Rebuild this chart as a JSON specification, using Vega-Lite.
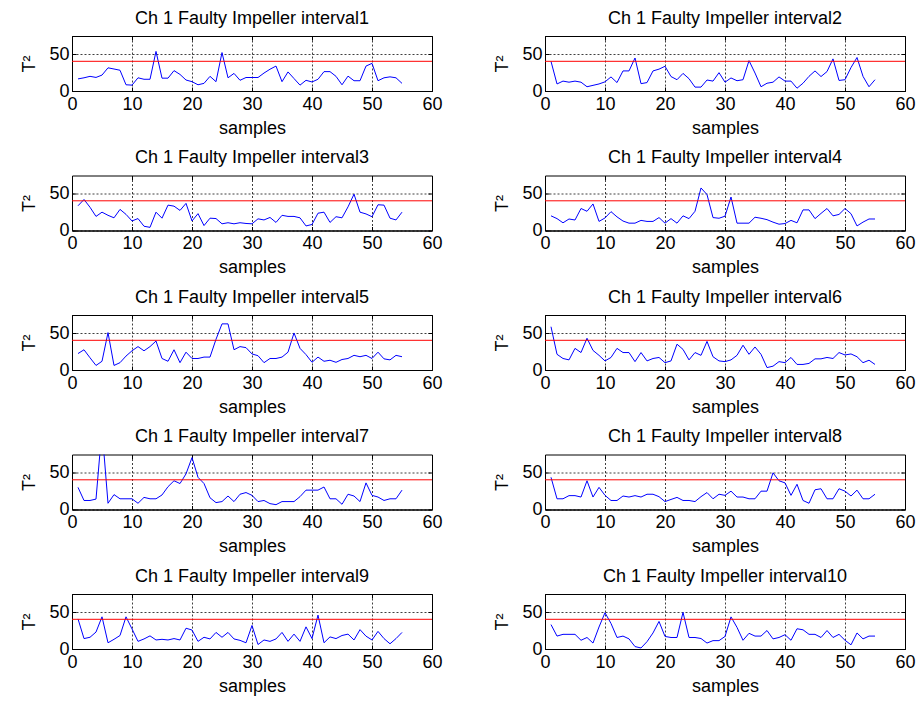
{
"$schema": "https://vega.github.io/schema/vega-lite/v6.json",
"padding": {"left": 20, "top": 9, "right": 5, "bottom": 5},
"background": "white",
"data": {"values": [
{"i":1,"s":1,"t":16.5},{"i":1,"s":2,"t":18},{"i":1,"s":3,"t":20},{"i":1,"s":4,"t":18.5},{"i":1,"s":5,"t":21.7},{"i":1,"s":6,"t":31.6},{"i":1,"s":7,"t":30},{"i":1,"s":8,"t":28.3},{"i":1,"s":9,"t":8.5},{"i":1,"s":10,"t":8},
{"i":1,"s":11,"t":18},{"i":1,"s":12,"t":16},{"i":1,"s":13,"t":16},{"i":1,"s":14,"t":54},{"i":1,"s":15,"t":17.5},{"i":1,"s":16,"t":17.5},{"i":1,"s":17,"t":27.8},{"i":1,"s":18,"t":22.6},{"i":1,"s":19,"t":15},{"i":1,"s":20,"t":12.7},
{"i":1,"s":21,"t":8.5},{"i":1,"s":22,"t":10.4},{"i":1,"s":23,"t":20},{"i":1,"s":24,"t":12.7},{"i":1,"s":25,"t":52.4},{"i":1,"s":26,"t":18},{"i":1,"s":27,"t":24},{"i":1,"s":28,"t":14.6},{"i":1,"s":29,"t":18.4},{"i":1,"s":30,"t":18.4},
{"i":1,"s":31,"t":18.4},{"i":1,"s":32,"t":24.5},{"i":1,"s":33,"t":29.7},{"i":1,"s":34,"t":34},{"i":1,"s":35,"t":12.7},{"i":1,"s":36,"t":26},{"i":1,"s":37,"t":17},{"i":1,"s":38,"t":8},{"i":1,"s":39,"t":14.6},{"i":1,"s":40,"t":12.3},
{"i":1,"s":41,"t":16},{"i":1,"s":42,"t":26.4},{"i":1,"s":43,"t":26.4},{"i":1,"s":44,"t":20},{"i":1,"s":45,"t":8.5},{"i":1,"s":46,"t":20.3},{"i":1,"s":47,"t":14},{"i":1,"s":48,"t":14},{"i":1,"s":49,"t":34},{"i":1,"s":50,"t":37.7},
{"i":1,"s":51,"t":14},{"i":1,"s":52,"t":18},{"i":1,"s":53,"t":19.3},{"i":1,"s":54,"t":18},{"i":1,"s":55,"t":10.4},
{"i":2,"s":1,"t":40.4},{"i":2,"s":2,"t":9.6},{"i":2,"s":3,"t":13.5},{"i":2,"s":4,"t":12},{"i":2,"s":5,"t":13.5},{"i":2,"s":6,"t":12},{"i":2,"s":7,"t":5.8},{"i":2,"s":8,"t":7.7},{"i":2,"s":9,"t":9.6},{"i":2,"s":10,"t":12.5},
{"i":2,"s":11,"t":19.2},{"i":2,"s":12,"t":11.5},{"i":2,"s":13,"t":27.4},{"i":2,"s":14,"t":27.4},{"i":2,"s":15,"t":45},{"i":2,"s":16,"t":10},{"i":2,"s":17,"t":11.5},{"i":2,"s":18,"t":27.4},{"i":2,"s":19,"t":29.8},{"i":2,"s":20,"t":33.7},
{"i":2,"s":21,"t":19.7},{"i":2,"s":22,"t":15.4},{"i":2,"s":23,"t":24},{"i":2,"s":24,"t":16.8},{"i":2,"s":25,"t":5.3},{"i":2,"s":26,"t":5.3},{"i":2,"s":27,"t":15},{"i":2,"s":28,"t":13.5},{"i":2,"s":29,"t":25},{"i":2,"s":30,"t":12},
{"i":2,"s":31,"t":17.8},{"i":2,"s":32,"t":14},{"i":2,"s":33,"t":15.4},{"i":2,"s":34,"t":41.4},{"i":2,"s":35,"t":24.5},{"i":2,"s":36,"t":5.8},{"i":2,"s":37,"t":10.6},{"i":2,"s":38,"t":12},{"i":2,"s":39,"t":19.2},{"i":2,"s":40,"t":13.5},
{"i":2,"s":41,"t":13.5},{"i":2,"s":42,"t":3.8},{"i":2,"s":43,"t":10.6},{"i":2,"s":44,"t":20},{"i":2,"s":45,"t":27.4},{"i":2,"s":46,"t":19.7},{"i":2,"s":47,"t":26.5},{"i":2,"s":48,"t":43.8},{"i":2,"s":49,"t":14.4},{"i":2,"s":50,"t":15.4},
{"i":2,"s":51,"t":32},{"i":2,"s":52,"t":45.7},{"i":2,"s":53,"t":20},{"i":2,"s":54,"t":5.8},{"i":2,"s":55,"t":15.4},
{"i":3,"s":1,"t":33.7},{"i":3,"s":2,"t":42.3},{"i":3,"s":3,"t":31.7},{"i":3,"s":4,"t":19.2},{"i":3,"s":5,"t":25},{"i":3,"s":6,"t":20.7},{"i":3,"s":7,"t":17.3},{"i":3,"s":8,"t":28.8},{"i":3,"s":9,"t":22},{"i":3,"s":10,"t":13},
{"i":3,"s":11,"t":16.3},{"i":3,"s":12,"t":5.8},{"i":3,"s":13,"t":4.3},{"i":3,"s":14,"t":25},{"i":3,"s":15,"t":16.8},{"i":3,"s":16,"t":34.6},{"i":3,"s":17,"t":33.2},{"i":3,"s":18,"t":27.4},{"i":3,"s":19,"t":37},{"i":3,"s":20,"t":13},
{"i":3,"s":21,"t":23},{"i":3,"s":22,"t":6.7},{"i":3,"s":23,"t":16.8},{"i":3,"s":24,"t":16.3},{"i":3,"s":25,"t":9.1},{"i":3,"s":26,"t":10.6},{"i":3,"s":27,"t":9.1},{"i":3,"s":28,"t":10.6},{"i":3,"s":29,"t":9.6},{"i":3,"s":30,"t":9.1},
{"i":3,"s":31,"t":15.9},{"i":3,"s":32,"t":14.4},{"i":3,"s":33,"t":17.8},{"i":3,"s":34,"t":11},{"i":3,"s":35,"t":20.7},{"i":3,"s":36,"t":19.2},{"i":3,"s":37,"t":19.2},{"i":3,"s":38,"t":17.3},{"i":3,"s":39,"t":6.2},{"i":3,"s":40,"t":8.2},
{"i":3,"s":41,"t":23.6},{"i":3,"s":42,"t":25},{"i":3,"s":43,"t":11},{"i":3,"s":44,"t":18.8},{"i":3,"s":45,"t":17.3},{"i":3,"s":46,"t":32.2},{"i":3,"s":47,"t":49.5},{"i":3,"s":48,"t":25},{"i":3,"s":49,"t":22.6},{"i":3,"s":50,"t":18.8},
{"i":3,"s":51,"t":35.1},{"i":3,"s":52,"t":34.6},{"i":3,"s":53,"t":16.8},{"i":3,"s":54,"t":14.4},{"i":3,"s":55,"t":25},
{"i":4,"s":1,"t":20},{"i":4,"s":2,"t":16.2},{"i":4,"s":3,"t":10.5},{"i":4,"s":4,"t":15.7},{"i":4,"s":5,"t":14.3},{"i":4,"s":6,"t":30},{"i":4,"s":7,"t":26.2},{"i":4,"s":8,"t":36.2},{"i":4,"s":9,"t":12.4},{"i":4,"s":10,"t":17.1},
{"i":4,"s":11,"t":25.7},{"i":4,"s":12,"t":18.6},{"i":4,"s":13,"t":12.9},{"i":4,"s":14,"t":10},{"i":4,"s":15,"t":10},{"i":4,"s":16,"t":13.8},{"i":4,"s":17,"t":12.4},{"i":4,"s":18,"t":12.4},{"i":4,"s":19,"t":17.6},{"i":4,"s":20,"t":10},
{"i":4,"s":21,"t":16.2},{"i":4,"s":22,"t":10},{"i":4,"s":23,"t":20},{"i":4,"s":24,"t":16.2},{"i":4,"s":25,"t":26.2},{"i":4,"s":26,"t":58},{"i":4,"s":27,"t":49},{"i":4,"s":28,"t":17.6},{"i":4,"s":29,"t":16.7},{"i":4,"s":30,"t":19.5},
{"i":4,"s":31,"t":45.7},{"i":4,"s":32,"t":10},{"i":4,"s":33,"t":10},{"i":4,"s":34,"t":10},{"i":4,"s":35,"t":18.1},{"i":4,"s":36,"t":16.7},{"i":4,"s":37,"t":14.8},{"i":4,"s":38,"t":11.4},{"i":4,"s":39,"t":8.6},{"i":4,"s":40,"t":9.5},
{"i":4,"s":41,"t":13.8},{"i":4,"s":42,"t":10.5},{"i":4,"s":43,"t":28.1},{"i":4,"s":44,"t":28.1},{"i":4,"s":45,"t":16.2},{"i":4,"s":46,"t":23.3},{"i":4,"s":47,"t":30},{"i":4,"s":48,"t":20},{"i":4,"s":49,"t":21.9},{"i":4,"s":50,"t":30},
{"i":4,"s":51,"t":22.9},{"i":4,"s":52,"t":6.2},{"i":4,"s":53,"t":11.4},{"i":4,"s":54,"t":15.7},{"i":4,"s":55,"t":15.7},
{"i":5,"s":1,"t":22.4},{"i":5,"s":2,"t":27.6},{"i":5,"s":3,"t":16.7},{"i":5,"s":4,"t":6.2},{"i":5,"s":5,"t":11.9},{"i":5,"s":6,"t":51},{"i":5,"s":7,"t":6.2},{"i":5,"s":8,"t":10},{"i":5,"s":9,"t":19},{"i":5,"s":10,"t":26.2},
{"i":5,"s":11,"t":31.9},{"i":5,"s":12,"t":26.2},{"i":5,"s":13,"t":31.9},{"i":5,"s":14,"t":39.5},{"i":5,"s":15,"t":15.7},{"i":5,"s":16,"t":11.9},{"i":5,"s":17,"t":27.6},{"i":5,"s":18,"t":10},{"i":5,"s":19,"t":24.3},{"i":5,"s":20,"t":15.7},
{"i":5,"s":21,"t":15.7},{"i":5,"s":22,"t":17.6},{"i":5,"s":23,"t":17.6},{"i":5,"s":24,"t":41.9},{"i":5,"s":25,"t":62.9},{"i":5,"s":26,"t":62.9},{"i":5,"s":27,"t":27.6},{"i":5,"s":28,"t":31.9},{"i":5,"s":29,"t":30.5},{"i":5,"s":30,"t":21.9},
{"i":5,"s":31,"t":19.5},{"i":5,"s":32,"t":10},{"i":5,"s":33,"t":15.7},{"i":5,"s":34,"t":15.7},{"i":5,"s":35,"t":17.6},{"i":5,"s":36,"t":24.3},{"i":5,"s":37,"t":50.5},{"i":5,"s":38,"t":29.5},{"i":5,"s":39,"t":21},{"i":5,"s":40,"t":10.5},
{"i":5,"s":41,"t":17.6},{"i":5,"s":42,"t":11.9},{"i":5,"s":43,"t":13.3},{"i":5,"s":44,"t":10.5},{"i":5,"s":45,"t":14.3},{"i":5,"s":46,"t":15.7},{"i":5,"s":47,"t":20},{"i":5,"s":48,"t":18.1},{"i":5,"s":49,"t":20},{"i":5,"s":50,"t":15.7},
{"i":5,"s":51,"t":24.3},{"i":5,"s":52,"t":15.2},{"i":5,"s":53,"t":13.8},{"i":5,"s":54,"t":20},{"i":5,"s":55,"t":18.1},
{"i":6,"s":1,"t":59},{"i":6,"s":2,"t":21.4},{"i":6,"s":3,"t":15.7},{"i":6,"s":4,"t":13.8},{"i":6,"s":5,"t":29.5},{"i":6,"s":6,"t":23.8},{"i":6,"s":7,"t":43.3},{"i":6,"s":8,"t":26.7},{"i":6,"s":9,"t":20},{"i":6,"s":10,"t":12.4},
{"i":6,"s":11,"t":17.1},{"i":6,"s":12,"t":29.5},{"i":6,"s":13,"t":23.8},{"i":6,"s":14,"t":23.8},{"i":6,"s":15,"t":11.4},{"i":6,"s":16,"t":23.8},{"i":6,"s":17,"t":12.4},{"i":6,"s":18,"t":15.7},{"i":6,"s":19,"t":17.1},{"i":6,"s":20,"t":10},
{"i":6,"s":21,"t":12.4},{"i":6,"s":22,"t":35.2},{"i":6,"s":23,"t":28.1},{"i":6,"s":24,"t":13.8},{"i":6,"s":25,"t":23.8},{"i":6,"s":26,"t":20},{"i":6,"s":27,"t":39},{"i":6,"s":28,"t":18.1},{"i":6,"s":29,"t":12.4},{"i":6,"s":30,"t":11.4},
{"i":6,"s":31,"t":13.8},{"i":6,"s":32,"t":20},{"i":6,"s":33,"t":33.8},{"i":6,"s":34,"t":21.4},{"i":6,"s":35,"t":31.4},{"i":6,"s":36,"t":21.4},{"i":6,"s":37,"t":3.3},{"i":6,"s":38,"t":5.2},{"i":6,"s":39,"t":11.4},{"i":6,"s":40,"t":10},
{"i":6,"s":41,"t":17.1},{"i":6,"s":42,"t":7.6},{"i":6,"s":43,"t":7.6},{"i":6,"s":44,"t":9},{"i":6,"s":45,"t":15.2},{"i":6,"s":46,"t":15.2},{"i":6,"s":47,"t":17.1},{"i":6,"s":48,"t":15.7},{"i":6,"s":49,"t":23.8},{"i":6,"s":50,"t":20.5},
{"i":6,"s":51,"t":21.9},{"i":6,"s":52,"t":18.1},{"i":6,"s":53,"t":10},{"i":6,"s":54,"t":13.3},{"i":6,"s":55,"t":7.6},
{"i":7,"s":1,"t":30.2},{"i":7,"s":2,"t":12.3},{"i":7,"s":3,"t":12.3},{"i":7,"s":4,"t":14.2},{"i":7,"s":5,"t":110},{"i":7,"s":6,"t":8.5},{"i":7,"s":7,"t":20.3},{"i":7,"s":8,"t":14.6},{"i":7,"s":9,"t":14.6},{"i":7,"s":10,"t":14.6},
{"i":7,"s":11,"t":8.5},{"i":7,"s":12,"t":16.5},{"i":7,"s":13,"t":14.6},{"i":7,"s":14,"t":14.6},{"i":7,"s":15,"t":19.8},{"i":7,"s":16,"t":31.1},{"i":7,"s":17,"t":39.2},{"i":7,"s":18,"t":35.4},{"i":7,"s":19,"t":48.6},{"i":7,"s":20,"t":70.8},
{"i":7,"s":21,"t":43.9},{"i":7,"s":22,"t":35.4},{"i":7,"s":23,"t":16},{"i":7,"s":24,"t":9.4},{"i":7,"s":25,"t":10.8},{"i":7,"s":26,"t":18.4},{"i":7,"s":27,"t":10.8},{"i":7,"s":28,"t":20.8},{"i":7,"s":29,"t":23.1},{"i":7,"s":30,"t":19.3},
{"i":7,"s":31,"t":10.8},{"i":7,"s":32,"t":12.3},{"i":7,"s":33,"t":8},{"i":7,"s":34,"t":6.6},{"i":7,"s":35,"t":10.8},{"i":7,"s":36,"t":10.8},{"i":7,"s":37,"t":10.8},{"i":7,"s":38,"t":17.5},{"i":7,"s":39,"t":26.4},{"i":7,"s":40,"t":26.4},
{"i":7,"s":41,"t":26.4},{"i":7,"s":42,"t":30.7},{"i":7,"s":43,"t":14.6},{"i":7,"s":44,"t":14.6},{"i":7,"s":45,"t":7.1},{"i":7,"s":46,"t":20.8},{"i":7,"s":47,"t":18.4},{"i":7,"s":48,"t":10.8},{"i":7,"s":49,"t":36.3},{"i":7,"s":50,"t":19.3},
{"i":7,"s":51,"t":17},{"i":7,"s":52,"t":12.3},{"i":7,"s":53,"t":14.6},{"i":7,"s":54,"t":14.6},{"i":7,"s":55,"t":26.4},
{"i":8,"s":1,"t":43.9},{"i":8,"s":2,"t":14.6},{"i":8,"s":3,"t":14.6},{"i":8,"s":4,"t":18.9},{"i":8,"s":5,"t":18.9},{"i":8,"s":6,"t":17},{"i":8,"s":7,"t":39.2},{"i":8,"s":8,"t":17},{"i":8,"s":9,"t":30.2},{"i":8,"s":10,"t":19.3},
{"i":8,"s":11,"t":12.3},{"i":8,"s":12,"t":12.3},{"i":8,"s":13,"t":18.4},{"i":8,"s":14,"t":17},{"i":8,"s":15,"t":18.9},{"i":8,"s":16,"t":17},{"i":8,"s":17,"t":20.8},{"i":8,"s":18,"t":20.8},{"i":8,"s":19,"t":17.5},{"i":8,"s":20,"t":10.8},
{"i":8,"s":21,"t":13.7},{"i":8,"s":22,"t":16.5},{"i":8,"s":23,"t":12.3},{"i":8,"s":24,"t":12.3},{"i":8,"s":25,"t":10.8},{"i":8,"s":26,"t":17.5},{"i":8,"s":27,"t":23.1},{"i":8,"s":28,"t":14.6},{"i":8,"s":29,"t":20.8},{"i":8,"s":30,"t":19.3},
{"i":8,"s":31,"t":25},{"i":8,"s":32,"t":17},{"i":8,"s":33,"t":17},{"i":8,"s":34,"t":14.6},{"i":8,"s":35,"t":14.6},{"i":8,"s":36,"t":25},{"i":8,"s":37,"t":25},{"i":8,"s":38,"t":50},{"i":8,"s":39,"t":39.2},{"i":8,"s":40,"t":36.3},
{"i":8,"s":41,"t":19.3},{"i":8,"s":42,"t":34.4},{"i":8,"s":43,"t":12.3},{"i":8,"s":44,"t":8.5},{"i":8,"s":45,"t":26.9},{"i":8,"s":46,"t":28.3},{"i":8,"s":47,"t":14.6},{"i":8,"s":48,"t":14.6},{"i":8,"s":49,"t":28.3},{"i":8,"s":50,"t":25},
{"i":8,"s":51,"t":18.4},{"i":8,"s":52,"t":26.4},{"i":8,"s":53,"t":14.6},{"i":8,"s":54,"t":14.6},{"i":8,"s":55,"t":20.8},
{"i":9,"s":1,"t":41},{"i":9,"s":2,"t":14.2},{"i":9,"s":3,"t":16},{"i":9,"s":4,"t":23.1},{"i":9,"s":5,"t":43.9},{"i":9,"s":6,"t":8.5},{"i":9,"s":7,"t":13.2},{"i":9,"s":8,"t":18.4},{"i":9,"s":9,"t":43.9},{"i":9,"s":10,"t":27.4},
{"i":9,"s":11,"t":10.4},{"i":9,"s":12,"t":13.7},{"i":9,"s":13,"t":17.9},{"i":9,"s":14,"t":12.3},{"i":9,"s":15,"t":13.2},{"i":9,"s":16,"t":12.3},{"i":9,"s":17,"t":14.2},{"i":9,"s":18,"t":12.3},{"i":9,"s":19,"t":28.3},{"i":9,"s":20,"t":25.9},
{"i":9,"s":21,"t":10.4},{"i":9,"s":22,"t":16},{"i":9,"s":23,"t":13.7},{"i":9,"s":24,"t":22.6},{"i":9,"s":25,"t":16},{"i":9,"s":26,"t":22.6},{"i":9,"s":27,"t":13.7},{"i":9,"s":28,"t":11.8},{"i":9,"s":29,"t":8.5},{"i":9,"s":30,"t":32.1},
{"i":9,"s":31,"t":6.1},{"i":9,"s":32,"t":12.3},{"i":9,"s":33,"t":10.4},{"i":9,"s":34,"t":13.7},{"i":9,"s":35,"t":22.6},{"i":9,"s":36,"t":10.4},{"i":9,"s":37,"t":20.3},{"i":9,"s":38,"t":10.4},{"i":9,"s":39,"t":30.2},{"i":9,"s":40,"t":14.2},
{"i":9,"s":41,"t":46.2},{"i":9,"s":42,"t":8.5},{"i":9,"s":43,"t":16.5},{"i":9,"s":44,"t":14.2},{"i":9,"s":45,"t":18.4},{"i":9,"s":46,"t":20.3},{"i":9,"s":47,"t":12.3},{"i":9,"s":48,"t":26.4},{"i":9,"s":49,"t":17.5},{"i":9,"s":50,"t":12.3},
{"i":9,"s":51,"t":24},{"i":9,"s":52,"t":14.2},{"i":9,"s":53,"t":7.1},{"i":9,"s":54,"t":14.2},{"i":9,"s":55,"t":22.6},
{"i":10,"s":1,"t":33.3},{"i":10,"s":2,"t":17.6},{"i":10,"s":3,"t":20},{"i":10,"s":4,"t":20},{"i":10,"s":5,"t":20},{"i":10,"s":6,"t":11.9},{"i":10,"s":7,"t":15.7},{"i":10,"s":8,"t":8.1},{"i":10,"s":9,"t":30},{"i":10,"s":10,"t":49.5},
{"i":10,"s":11,"t":34.8},{"i":10,"s":12,"t":15.7},{"i":10,"s":13,"t":17.6},{"i":10,"s":14,"t":13.8},{"i":10,"s":15,"t":3.3},{"i":10,"s":16,"t":1.4},{"i":10,"s":17,"t":10},{"i":10,"s":18,"t":21.9},{"i":10,"s":19,"t":37.6},{"i":10,"s":20,"t":17.1},
{"i":10,"s":21,"t":15.7},{"i":10,"s":22,"t":15.7},{"i":10,"s":23,"t":50},{"i":10,"s":24,"t":15.7},{"i":10,"s":25,"t":15.7},{"i":10,"s":26,"t":14.3},{"i":10,"s":27,"t":8.1},{"i":10,"s":28,"t":11.4},{"i":10,"s":29,"t":11.4},{"i":10,"s":30,"t":17.1},
{"i":10,"s":31,"t":43.8},{"i":10,"s":32,"t":29.5},{"i":10,"s":33,"t":11.9},{"i":10,"s":34,"t":21.4},{"i":10,"s":35,"t":17.6},{"i":10,"s":36,"t":17.6},{"i":10,"s":37,"t":25.2},{"i":10,"s":38,"t":13.8},{"i":10,"s":39,"t":15.7},{"i":10,"s":40,"t":19.5},
{"i":10,"s":41,"t":11.9},{"i":10,"s":42,"t":27.6},{"i":10,"s":43,"t":26.2},{"i":10,"s":44,"t":20},{"i":10,"s":45,"t":20},{"i":10,"s":46,"t":15.7},{"i":10,"s":47,"t":25.2},{"i":10,"s":48,"t":15.7},{"i":10,"s":49,"t":20},{"i":10,"s":50,"t":11.9},
{"i":10,"s":51,"t":5.7},{"i":10,"s":52,"t":21.9},{"i":10,"s":53,"t":13.8},{"i":10,"s":54,"t":17.6},{"i":10,"s":55,"t":17.6}
]},
"facet": {
  "field": "i", "type": "ordinal",
  "header": {"title": null, "labelExpr": "'Ch 1 Faulty Impeller interval' + datum.value", "labelFont": "Liberation Sans", "labelFontSize": 18, "labelColor": "black", "labelPadding": 8}
},
"columns": 2,
"spacing": {"row": 84.5, "column": 113},
"bounds": "flush",
"resolve": {"axis": {"x": "independent", "y": "independent"}},
"spec": {
  "width": 360,
  "height": 55,
  "resolve": {"axis": {"x": "independent", "y": "independent"}},
  "layer": [
    {
      "mark": {"type": "line", "color": "#0000ff", "strokeWidth": 1, "clip": true},
      "encoding": {
        "x": {"field": "s", "type": "quantitative", "scale": {"domain": [0, 60], "nice": false},
              "axis": {"values": [0,10,20,30,40,50,60], "grid": true, "title": "samples", "orient": "bottom"}},
        "y": {"field": "t", "type": "quantitative", "scale": {"domain": [0, 75], "nice": false},
              "axis": {"values": [0, 50], "grid": true, "title": "T²", "orient": "left"}}
      }
    },
    {
      "mark": {"type": "line", "strokeOpacity": 0, "clip": true},
      "encoding": {
        "x": {"field": "s", "type": "quantitative",
              "axis": {"values": [0,10,20,30,40,50,60], "grid": false, "labels": false, "title": null, "domain": false, "orient": "top"}},
        "y": {"field": "t", "type": "quantitative",
              "axis": {"values": [0, 50], "grid": false, "labels": false, "title": null, "domain": false, "orient": "right"}}
      }
    },
    {
      "transform": [{"filter": "datum.s == 1"}],
      "mark": {"type": "rule", "color": "#ff0000", "strokeWidth": 1},
      "encoding": {"y": {"datum": 40.5, "type": "quantitative", "axis": null}}
    }
  ]
},
"config": {
  "view": {"stroke": "black", "strokeWidth": 1},
  "font": "Liberation Sans",
  "axis": {
    "labelFont": "Liberation Sans", "labelFontSize": 18, "labelColor": "black",
    "titleFont": "Liberation Sans", "titleFontSize": 18, "titleFontWeight": "normal", "titleColor": "black",
    "domainColor": "black", "domainWidth": 1, "tickColor": "black", "tickSize": -4, "tickWidth": 1,
    "gridColor": "#000000", "gridDash": [2, 2], "gridOpacity": 0.75, "gridWidth": 1,
    "labelPadding": 8, "labelFlush": false, "labelOverlap": false
  },
  "axisX": {"titlePadding": 6},
  "axisY": {"titlePadding": 10, "labelPadding": 7}
}
}
